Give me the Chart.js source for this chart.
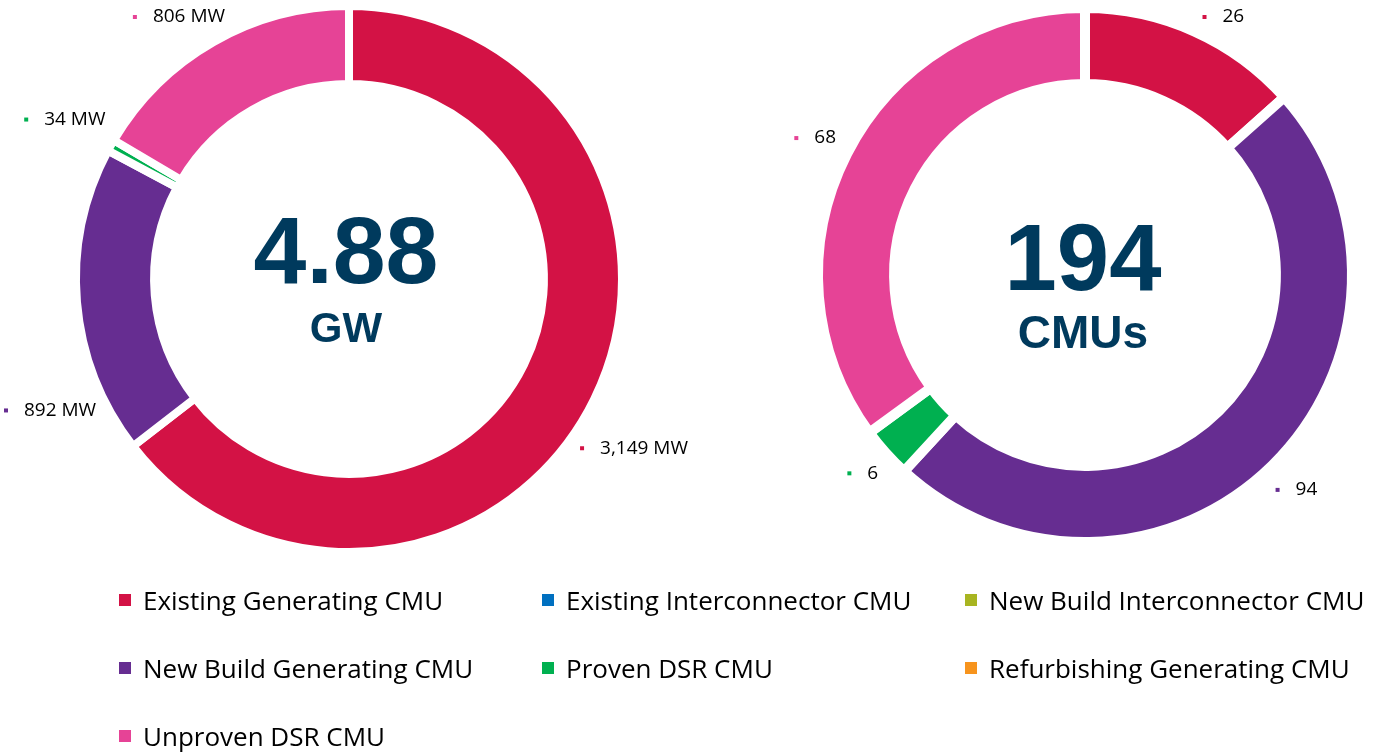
<!DOCTYPE html>
<html>
<head>
<meta charset="utf-8">
<script src="https://cdn.jsdelivr.net/npm/chart.js@4.4.1/dist/chart.umd.min.js"></script>
<style>
    html, body { margin: 0; padding: 0; background: #fff; }
    body { width: 1384px; height: 752px; position: relative; overflow: hidden; }
    #capacityChart { position: absolute; left: 0; top: 0; }
    #unitsChart { position: absolute; left: 692px; top: 0; }
    #legend {
        position: absolute; left: 119px; top: 566px;
        display: grid; grid-template-columns: 423px 423px 423px; grid-auto-rows: 68px;
        font-family: 'Open Sans', sans-serif; font-size: 26px; color: #000;
    }
    .legend-item { display: flex; align-items: center; white-space: nowrap; }
    .legend-box { width: 12px; height: 12px; margin-right: 12px; flex: none; }
</style>
</head>
<body>
<canvas id="capacityChart" width="692" height="570"></canvas>
<canvas id="unitsChart" width="692" height="570"></canvas>
<div id="legend"></div>

<script>
// Categories, in legend order
const cmuTypes = [
    'Existing Generating CMU',
    'Existing Interconnector CMU',
    'New Build Interconnector CMU',
    'New Build Generating CMU',
    'Proven DSR CMU',
    'Refurbishing Generating CMU',
    'Unproven DSR CMU'
];
const cmuColors = ['#D31245', '#0070C0', '#A8B521', '#662D91', '#00B050', '#F7941D', '#E64396'];

// Capacity in MW per type
const capacityMW = [3149, 0, 0, 892, 34, 0, 806];
// Number of CMUs per type
const unitCounts = [26, 0, 0, 94, 6, 0, 68];

document.addEventListener('DOMContentLoaded', function() {

    // Labels outside each ring: tiny coloured square + value
    const outsideLabels = {
        id: 'outsideLabels',
        afterDatasetsDraw(chart, args, opts) {
            const ctx = chart.ctx;
            const meta = chart.getDatasetMeta(0);
            const values = chart.data.datasets[0].data;
            const colors = chart.data.datasets[0].backgroundColor;
            ctx.save();
            ctx.font = opts.font;
            ctx.textBaseline = 'middle';
            meta.data.forEach((arc, i) => {
                if (!values[i]) return;
                const p = arc.getProps(['x', 'y', 'startAngle', 'endAngle', 'outerRadius'], true);
                const text = opts.format(values[i]);
                const tw = ctx.measureText(text).width;
                const w = 4 + 16 + tw;
                const h = 22;

                // place the box along an angle; clamp to the canvas
                function place(a) {
                    const d = p.outerRadius + 12 + (w / 2) * Math.abs(Math.cos(a)) + (h / 2) * Math.abs(Math.sin(a));
                    let bx = p.x + Math.cos(a) * d - w / 2;
                    let by = p.y + Math.sin(a) * d;
                    bx = Math.max(4, Math.min(chart.width - w - 4, bx));
                    by = Math.max(h / 2 + 6, Math.min(chart.height - h / 2, by));
                    return { bx, by };
                }
                function hitsRing(b) {
                    const nx = Math.max(b.bx, Math.min(p.x, b.bx + w));
                    const ny = Math.max(b.by - h / 2, Math.min(p.y, b.by + h / 2));
                    return Math.hypot(nx - p.x, ny - p.y) < p.outerRadius + 6;
                }

                // slide away from the mid angle (either way, inside the slice)
                // until the text clears the ring; prefer the lower spot on a tie
                const mid = (p.startAngle + p.endAngle) / 2;
                const step = Math.PI / 360;
                let box = place(mid);
                for (let k = 1; hitsRing(box) && k < 200; k++) {
                    const cands = [mid - k * step, mid + k * step]
                        .filter(a => a >= p.startAngle && a <= p.endAngle)
                        .map(place)
                        .filter(b => !hitsRing(b))
                        .sort((u, v) => v.by - u.by);
                    if (cands.length) box = cands[0];
                }

                ctx.fillStyle = colors[i];
                ctx.fillRect(box.bx, box.by - 2, 4, 4);
                ctx.fillStyle = '#000';
                ctx.textAlign = 'left';
                ctx.fillText(text, box.bx + 20, box.by);
            });
            ctx.restore();
        }
    };

    // Big total in the hole
    const centerTotal = {
        id: 'centerTotal',
        afterDraw(chart, args, opts) {
            const ctx = chart.ctx;
            const area = chart.chartArea;
            const cx = (area.left + area.right) / 2;
            const cy = (area.top + area.bottom) / 2;
            ctx.save();
            ctx.fillStyle = '#003A5D';
            ctx.textAlign = 'center';
            ctx.textBaseline = 'alphabetic';
            ctx.font = 'bold ' + opts.bigSize + 'px "Liberation Sans", Arial, sans-serif';
            ctx.fillText(opts.total, cx + opts.shiftX, cy + opts.bigOffset);
            ctx.font = 'bold ' + opts.unitSize + 'px "Liberation Sans", Arial, sans-serif';
            ctx.fillText(opts.unit, cx + opts.shiftX, cy + opts.unitOffset);
            ctx.restore();
        }
    };

    function makeRing(canvasId, values, border, cutout, padding, format, centre) {
        return new Chart(document.getElementById(canvasId), {
            type: 'doughnut',
            data: {
                labels: cmuTypes,
                datasets: [{
                    data: values,
                    backgroundColor: cmuColors,
                    borderColor: '#ffffff',
                    borderWidth: border,
                    hoverOffset: 0,
                    offset: 0
                }]
            },
            options: {
                responsive: false,
                animation: false,
                events: [],
                cutout: cutout,
                layout: { padding: padding },
                plugins: {
                    legend: { display: false },
                    tooltip: { enabled: false },
                    outsideLabels: { font: '19px "Open Sans", sans-serif', format: format },
                    centerTotal: centre
                }
            },
            plugins: [outsideLabels, centerTotal]
        });
    }

    const totalMW = capacityMW.reduce((s, v) => s + v, 0);
    const totalUnits = unitCounts.reduce((s, v) => s + v, 0);

    makeRing('capacityChart', capacityMW, 8, '71.4%',
        { left: 72, right: 66, top: 2, bottom: 14 },
        v => v.toLocaleString('en-US') + ' MW',
        { total: (totalMW / 1000).toFixed(2), unit: 'GW', bigSize: 95, unitSize: 42,
          bigOffset: 4, unitOffset: 63, shiftX: -3 });

    makeRing('unitsChart', unitCounts, 10, '71.5%',
        { left: 121, right: 27, top: 3, bottom: 23 },
        v => String(v),
        { total: String(totalUnits), unit: 'CMUs', bigSize: 94, unitSize: 46,
          bigOffset: 15, unitOffset: 73, shiftX: -2 });

    // Shared legend
    const legend = document.getElementById('legend');
    cmuTypes.forEach((name, i) => {
        const item = document.createElement('div');
        item.className = 'legend-item';
        item.innerHTML = '<span class="legend-box" style="background:' + cmuColors[i] + '"></span><span>' + name + '</span>';
        legend.appendChild(item);
    });
});
</script>
</body>
</html>
